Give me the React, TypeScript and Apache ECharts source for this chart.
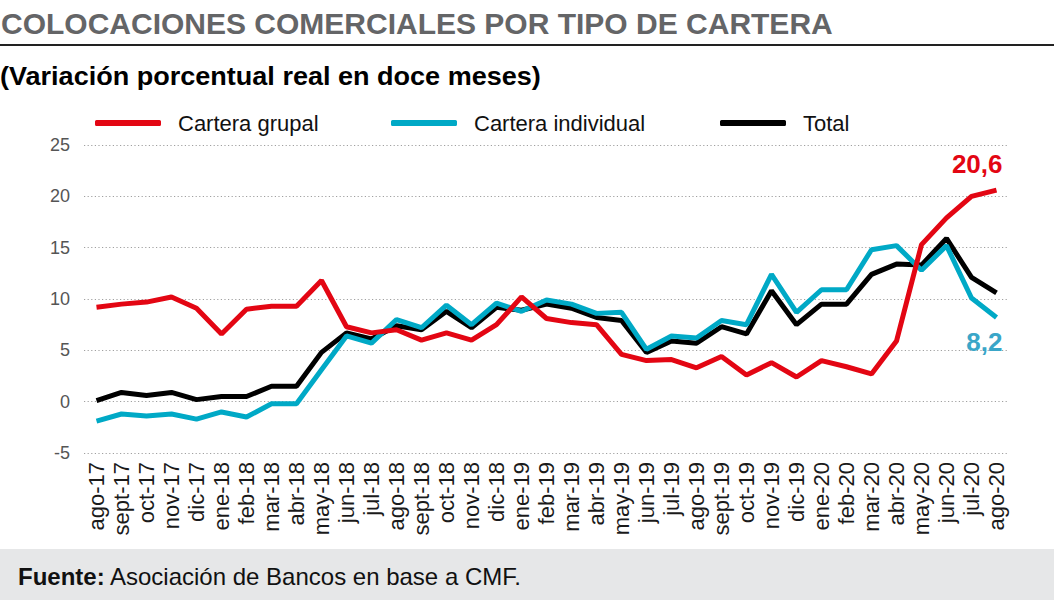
import React, { useEffect, useRef } from "react";
import * as echarts from "echarts";

const categories = [
  "ago-17", "sept-17", "oct-17", "nov-17", "dic-17", "ene-18", "feb-18", "mar-18", "abr-18", "may-18",
  "jun-18", "jul-18", "ago-18", "sept-18", "oct-18", "nov-18", "dic-18", "ene-19", "feb-19", "mar-19",
  "abr-19", "may-19", "jun-19", "jul-19", "ago-19", "sept-19", "oct-19", "nov-19", "dic-19", "ene-20",
  "feb-20", "mar-20", "abr-20", "may-20", "jun-20", "jul-20", "ago-20",
];

const carteraGrupal = [
  9.2, 9.5, 9.7, 10.2, 9.1, 6.6, 9.0, 9.3, 9.3, 11.8, 7.3, 6.7, 7.0,
  6.0, 6.7, 6.0, 7.5, 10.2, 8.1, 7.7, 7.5, 4.6, 4.0, 4.1, 3.3, 4.4,
  2.6, 3.8, 2.4, 4.0, 3.4, 2.7, 5.9, 15.3, 17.9, 20.0, 20.6,
];

const carteraIndividual = [
  -1.9, -1.2, -1.4, -1.2, -1.7, -1.0, -1.5, -0.2, -0.2, 3.1, 6.4, 5.7, 8.0,
  7.2, 9.4, 7.5, 9.6, 8.8, 9.9, 9.5, 8.6, 8.7, 5.1, 6.4, 6.2, 7.9,
  7.5, 12.4, 8.7, 10.9, 10.9, 14.8, 15.2, 12.8, 15.2, 10.1, 8.2,
];

const total = [
  0.1, 0.9, 0.6, 0.9, 0.2, 0.5, 0.5, 1.5, 1.5, 4.8, 6.7, 6.1, 7.4,
  7.0, 8.8, 7.2, 9.2, 8.9, 9.5, 9.1, 8.2, 7.9, 4.8, 5.9, 5.7, 7.3,
  6.6, 10.8, 7.5, 9.5, 9.5, 12.4, 13.4, 13.3, 15.9, 12.1, 10.6,
];

const yTicks = { min: -5, max: 25, interval: 5 };

const RED = "#e30613";
const CYAN = "#00a9c6";
const BLACK = "#000000";
const FONT = "'Liberation Sans', Arial, Helvetica, sans-serif";

const fmt = (v: number) => v.toFixed(1).replace(".", ",");

export default function App() {
  const ref = useRef<HTMLDivElement>(null);

  useEffect(() => {
    if (!ref.current) return;
    const chart = echarts.init(ref.current, null, { renderer: "svg" });

    const legendCommon = {
      top: 107,
      itemWidth: 66,
      itemHeight: 6,
      icon: "roundRect",
      selectedMode: false,
      textStyle: { fontSize: 22, color: "#111", fontFamily: FONT, padding: [0, 0, 0, 12] },
    };

    chart.setOption({
      animation: false,
      backgroundColor: "#ffffff",
      textStyle: { fontFamily: FONT },
      legend: [
        { ...legendCommon, left: 90, data: ["Cartera grupal"] },
        { ...legendCommon, left: 386, data: ["Cartera individual"] },
        { ...legendCommon, left: 715, data: ["Total"] },
      ],
      grid: { left: 84, right: 45, top: 145, height: 308, containLabel: false },
      xAxis: {
        type: "category",
        data: categories,
        boundaryGap: true,
        axisLine: { show: false },
        axisTick: { show: false },
        axisLabel: {
          interval: 0,
          rotate: 90,
          margin: 9,
          fontSize: 22,
          color: "#1a1a1a",
          fontFamily: FONT,
        },
        splitLine: { show: false },
      },
      yAxis: {
        type: "value",
        min: yTicks.min,
        max: yTicks.max,
        interval: yTicks.interval,
        axisLine: { show: false },
        axisTick: { show: false },
        axisLabel: { fontSize: 18, color: "#555", margin: 14, fontFamily: FONT },
        splitLine: { show: true, lineStyle: { color: "#a0a0a0", width: 1.2, type: [1.2, 2.4] } },
      },
      series: [
        {
          name: "Total",
          type: "line",
          data: total,
          showSymbol: false,
          color: BLACK,
          lineStyle: { width: 5, color: BLACK },
          z: 2,
        },
        {
          name: "Cartera individual",
          type: "line",
          data: carteraIndividual,
          showSymbol: false,
          color: CYAN,
          lineStyle: { width: 5, color: CYAN },
          z: 3,
          endLabel: {
            show: true,
            formatter: (p: any) => fmt(p.value),
            color: "#3aa6c8",
            fontSize: 26,
            fontWeight: "bold",
            fontFamily: FONT,
            align: "right",
            distance: 0,
            offset: [6, 25],
          },
        },
        {
          name: "Cartera grupal",
          type: "line",
          data: carteraGrupal,
          showSymbol: false,
          color: RED,
          lineStyle: { width: 5, color: RED },
          z: 4,
          endLabel: {
            show: true,
            formatter: (p: any) => fmt(p.value),
            color: RED,
            fontSize: 26,
            fontWeight: "bold",
            fontFamily: FONT,
            align: "right",
            distance: 0,
            offset: [6, -26],
          },
        },
      ],
      graphic: [
        {
          type: "text",
          x: 1,
          y: 23,
          style: {
            text: "COLOCACIONES COMERCIALES POR TIPO DE CARTERA",
            font: `bold 30px ${FONT}`,
            fill: "#646567",
            verticalAlign: "middle",
          },
        },
        {
          type: "line",
          shape: { x1: 0, y1: 45, x2: 1054, y2: 45 },
          style: { stroke: "#222", lineWidth: 2 },
        },
        {
          type: "text",
          x: 0,
          y: 76,
          scaleX: 1.04,
          style: {
            text: "(Variación porcentual real en doce meses)",
            font: `bold 26px ${FONT}`,
            fill: "#000",
            verticalAlign: "middle",
          },
        },
        {
          type: "rect",
          shape: { x: 0, y: 549, width: 1054, height: 51 },
          style: { fill: "#e6e7e8" },
          z: -1,
        },
        {
          type: "text",
          x: 18,
          y: 576,
          style: {
            text: "{b|Fuente:} Asociación de Bancos en base a CMF.",
            font: `24px ${FONT}`,
            fill: "#111",
            verticalAlign: "middle",
            rich: {
              b: { fontWeight: "bold", fontSize: 24, fontFamily: FONT, fill: "#111" },
            },
          },
        },
      ],
    });

    return () => chart.dispose();
  }, []);

  return (
    <div
      ref={ref}
      style={{ position: "fixed", left: 0, top: 0, width: 1054, height: 600, background: "#fff" }}
    />
  );
}
